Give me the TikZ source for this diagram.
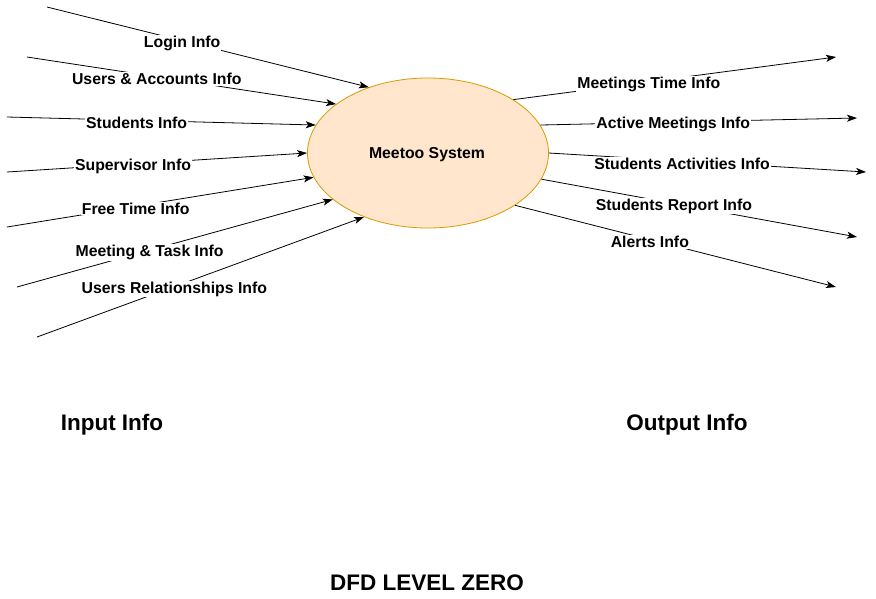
\documentclass[tikz,border=0pt]{standalone}
\usepackage{fontspec}
\setmainfont{Liberation Sans}
\usepackage{tikz}
\usepackage{tkz-euclide}
\usepackage{xcolor}
\usetikzlibrary{shapes.geometric,arrows.meta}

\definecolor{procfill}{HTML}{FFE6CC}
\definecolor{procdraw}{HTML}{D79B00}

\tikzset{
  flow/.style={draw=black,line width=0.8pt,-{Stealth[length=10pt,width=7pt,inset=2.5pt]}},
  flowlbl/.style={fill=white,inner sep=1pt,pos=0.42,yshift=-2.5pt,font=\fontsize{15.8}{18}\selectfont\bfseries},
  process/.style={ellipse,draw=procdraw,fill=procfill,line width=0.8pt,
    minimum width=241pt,minimum height=150pt,inner sep=0pt,
    font=\fontsize{15.8}{18}\selectfont\bfseries},
  heading/.style={font=\fontsize{22.5}{26}\selectfont\bfseries}
}

\begin{document}
\begin{tikzpicture}[x=1pt,y=-1pt]
    \useasboundingbox (0,0) rectangle (876,598);
    % sources on the left, sinks on the right
    \tkzDefPoints{47/7/I1,27/57/I2,7/117/I3,7/172/I4,7/227/I5,17/287/I6,37/337/I7}
    \tkzDefPoints{836/57/O1,857/118/O2,866/172/O3,857/237/O4,836/287/O5}
    \node[process] (sys) at (428,153) {};
    \node[font=\fontsize{15.8}{18}\selectfont\bfseries] (sysname) at (427,155) {Meetoo System};
    % input flows
    \draw[flow] (I1) -- node[flowlbl] (login) {Login Info} (sys.132.6);
    \draw[flow] (I2) -- node[flowlbl] (users) {Users \& Accounts Info} (sys.152.6);
    \draw[flow] (I3) -- node[flowlbl] (students) {Students Info} (sys.166.5);
    \draw[flow] (I4) -- node[flowlbl] (supervisor) {Supervisor Info} (sys.180);
    \draw[flow] (I5) -- node[flowlbl] (freetime) {Free Time Info} (sys.192.1);
    \draw[flow] (I6) -- node[flowlbl] (meeting) {Meeting \& Task Info} (sys.206.9);
    \draw[flow] (I7) -- node[flowlbl] (relations) {Users Relationships Info} (sys.225.2);
    % output flows
    \draw[flow] (sys.32.4) -- node[flowlbl] (meettime) {Meetings Time Info} (O1);
    \draw[flow] (sys.14.6) -- node[flowlbl] (active) {Active Meetings Info} (O2);
    \draw[flow] (sys.0) -- node[flowlbl] (activities) {Students Activities Info} (O3);
    \draw[flow] (sys.-13) -- node[flowlbl] (report) {Students Report Info} (O4);
    \draw[flow] (sys.-31.6) -- node[flowlbl] (alerts) {Alerts Info} (O5);
    % captions
    \node[heading] (input) at (112,425) {Input Info};
    \node[heading] (output) at (687,425) {Output Info};
    \node[heading] (title) at (427,583) {DFD LEVEL ZERO};
\end{tikzpicture}
\end{document}
